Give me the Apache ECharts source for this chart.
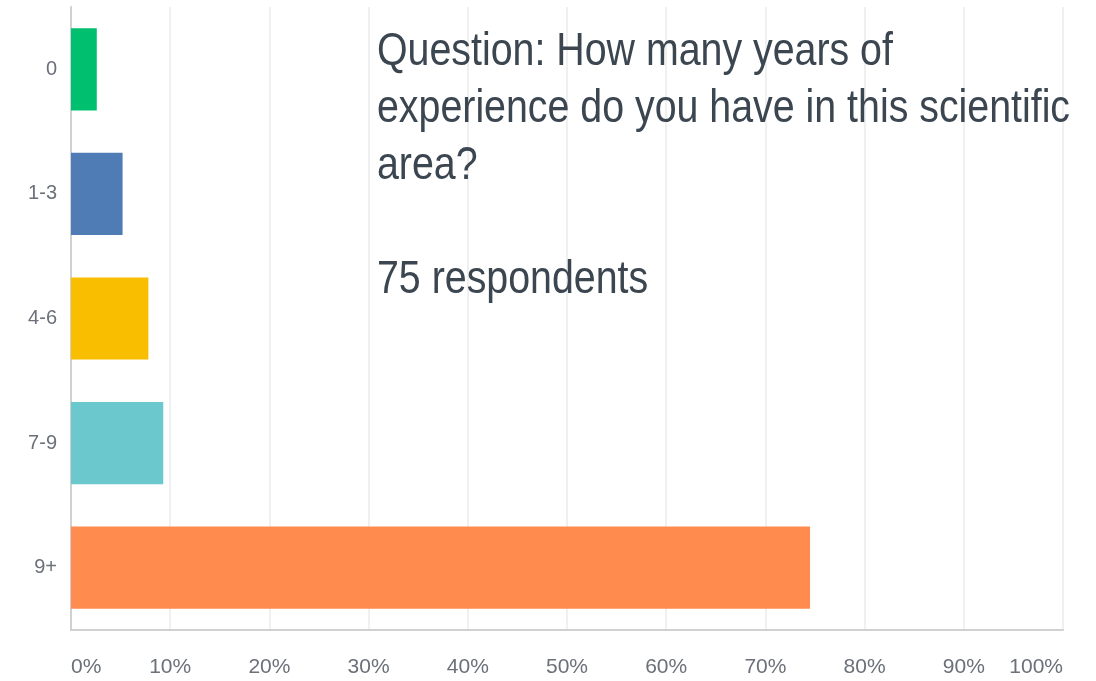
<!DOCTYPE html>
<html>
<head>
<meta charset="utf-8">
<script src="https://cdn.jsdelivr.net/npm/echarts@6/dist/echarts.min.js"></script>
<style>
  html, body { margin: 0; padding: 0; background: #ffffff; }
  #chart { width: 1096px; height: 681px; }
</style>
</head>
<body>
<div id="chart"></div>
<script>
// Years of experience in the scientific area (share of respondents, %)
const categories = ['0', '1-3', '4-6', '7-9', '9+'];
const shares = [2.6, 5.2, 7.8, 9.3, 74.5];
const barColors = ['#00bf6f', '#507cb6', '#f9be00', '#6bc8cd', '#ff8b4f'];
const noteLines = [
  'Question: How many years of',
  'experience do you have in this scientific',
  'area?',
  '',
  '75 respondents'
];

const chart = echarts.init(document.getElementById('chart'), null, { renderer: 'canvas' });

chart.setOption({
  animation: false,
  backgroundColor: '#ffffff',
  grid: { left: 71, right: 33, top: 7, bottom: 51, containLabel: false },
  xAxis: {
    type: 'value',
    min: 0,
    max: 100,
    interval: 10,
    axisLine: { show: true, lineStyle: { color: '#cfd1d3', width: 2 } },
    axisTick: { show: false },
    splitLine: { show: true, lineStyle: { color: '#ebebeb', width: 1.5 } },
    axisLabel: {
      formatter: '{value}%',
      color: '#6b7079',
      fontSize: 21,
      fontFamily: 'Liberation Sans, Arial, sans-serif',
      margin: 27,
      alignMinLabel: 'left',
      alignMaxLabel: 'right'
    }
  },
  yAxis: {
    type: 'category',
    data: categories,
    inverse: true,
    axisLine: { show: true, lineStyle: { color: '#cfd1d3', width: 2 } },
    axisTick: { show: false },
    splitLine: { show: false },
    axisLabel: {
      color: '#6b7079',
      fontSize: 20,
      fontFamily: 'Liberation Sans, Arial, sans-serif',
      margin: 14
    }
  },
  series: [{
    type: 'bar',
    barWidth: '66%',
    data: shares.map((v, i) => ({ value: v, itemStyle: { color: barColors[i] } })),
    label: { show: false }
  }],
  graphic: [{
    type: 'text',
    x: 377,
    y: 24,
    scaleX: 0.855,
    z: 10,
    style: {
      text: noteLines.join('\n'),
      font: '46px "Liberation Sans", Arial, sans-serif',
      lineHeight: 57,
      fill: '#3b4650'
    }
  }]
});
</script>
</body>
</html>
